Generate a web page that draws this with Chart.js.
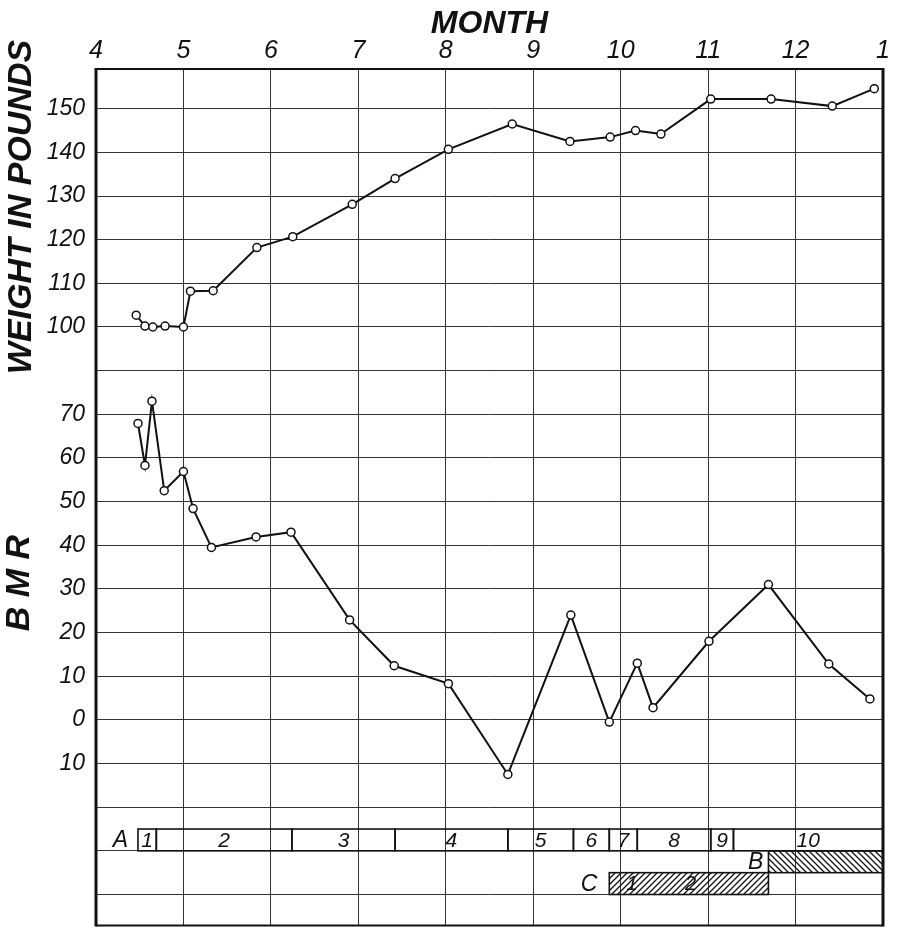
<!DOCTYPE html>
<html><head><meta charset="utf-8">
<script src="https://cdn.jsdelivr.net/npm/chart.js@4.4.1/dist/chart.umd.min.js"></script>
<style>html,body{margin:0;padding:0;background:#fff}#wrap{width:899px;height:931px;position:relative}</style>
</head><body><div id="wrap"><canvas id="c" width="899" height="931"></canvas></div>
<script>
// ---- data ----
const monthTicks = [4, 5, 6, 7, 8, 9, 10, 11, 12, 13];
const monthTickLabels = ['4', '5', '6', '7', '8', '9', '10', '11', '12', '1'];
const weightTicks = [100, 110, 120, 130, 140, 150];
const bmrTicks = [70, 60, 50, 40, 30, 20, 10, 0, -10];
const bmrTickLabels = ['70', '60', '50', '40', '30', '20', '10', '0', '10'];

const weightMonths = [4.46, 4.56, 4.65, 4.79, 5.0, 5.08, 5.34, 5.84, 6.25, 6.93, 7.42, 8.03, 8.76, 9.42, 9.88, 10.17, 10.46, 11.03, 11.72, 12.42, 12.90];
const weightValues = [102.7, 100.2, 100, 100.2, 100, 108.2, 108.3, 118.2, 120.7, 128.1, 134, 140.7, 146.5, 142.5, 143.5, 145, 144.2, 152.2, 152.2, 150.6, 154.6];

const bmrMonths = [4.48, 4.56, 4.64, 4.78, 5.0, 5.11, 5.32, 5.83, 6.23, 6.9, 7.41, 8.03, 8.71, 9.43, 9.87, 10.19, 10.37, 11.01, 11.69, 12.38, 12.85];
const bmrValues = [67.9, 58.3, 73.0, 52.5, 56.9, 48.4, 39.5, 41.9, 43.0, 22.9, 12.4, 8.3, -12.5, 24, -0.5, 13, 2.8, 18, 31, 12.8, 4.8];

const periodALabels = ['1', '2', '3', '4', '5', '6', '7', '8', '9', '10'];
const periodABounds = [4.48, 4.69, 6.24, 7.42, 8.71, 9.46, 9.87, 10.19, 11.03, 11.29, 13.0];
const periodB = [11.69, 13.0];
const periodC = [9.87, 11.69];
const periodCLabels = ['1', '2'];
const periodCLabelMonths = [10.13, 10.80];

// ---- layout constants ----
const BMR_OFFSET = 10;            // BMR axis = weight axis shifted by 10 units
const gridValues = [];
for (let v = -30; v <= 150; v += 10) gridValues.push(v);
const ROW_A = [-15, -20], ROW_B = [-20, -25], ROW_C = [-25, -30];
const FONT = "'Liberation Sans', 'DejaVu Sans', sans-serif";

const canvas = document.getElementById('c');
const ctx0 = canvas.getContext('2d');
function hatch(dir) {
  const s = 6;
  const c = document.createElement('canvas'); c.width = c.height = s;
  const g = c.getContext('2d');
  g.strokeStyle = '#111'; g.lineWidth = 1.3; g.beginPath();
  if (dir > 0) { g.moveTo(-1, s + 1); g.lineTo(s + 1, -1); g.moveTo(-1, 1); g.lineTo(1, -1); g.moveTo(s - 1, s + 1); g.lineTo(s + 1, s - 1); }
  else { g.moveTo(-1, -1); g.lineTo(s + 1, s + 1); g.moveTo(-1, s - 1); g.lineTo(1, s + 1); g.moveTo(s - 1, -1); g.lineTo(s + 1, 1); }
  g.stroke();
  return ctx0.createPattern(c, 'repeat');
}

const extras = {
  id: 'extras',
  beforeDatasetsDraw(chart) {
    const { ctx, chartArea: a, scales: { x, y } } = chart;
    ctx.save();
    ctx.fillStyle = '#111'; ctx.strokeStyle = '#111';
    ctx.font = 'italic 21px ' + FONT;
    ctx.textAlign = 'center'; ctx.textBaseline = 'middle';
    // Row A
    const ya0 = y.getPixelForValue(ROW_A[0]), ya1 = y.getPixelForValue(ROW_A[1]);
    ctx.lineWidth = 1.6;
    for (let i = 0; i < periodALabels.length; i++) {
      const x0 = x.getPixelForValue(periodABounds[i]), x1 = x.getPixelForValue(periodABounds[i + 1]);
      ctx.strokeRect(x0, ya0, x1 - x0, ya1 - ya0);
      ctx.fillText(periodALabels[i], (x0 + x1) / 2, (ya0 + ya1) / 2 + 1);
    }
    ctx.font = 'italic 23px ' + FONT;
    ctx.textAlign = 'right';
    ctx.fillText('A', x.getPixelForValue(periodABounds[0]) - 10, (ya0 + ya1) / 2 + 1);
    // Row B
    const yb0 = y.getPixelForValue(ROW_B[0]), yb1 = y.getPixelForValue(ROW_B[1]);
    let bx0 = x.getPixelForValue(periodB[0]), bx1 = x.getPixelForValue(periodB[1]);
    ctx.fillStyle = hatch(-1); ctx.fillRect(bx0, yb0, bx1 - bx0, yb1 - yb0);
    ctx.strokeRect(bx0, yb0, bx1 - bx0, yb1 - yb0);
    ctx.fillStyle = '#111';
    ctx.fillText('B', bx0 - 5, (yb0 + yb1) / 2 + 1);
    // Row C
    const yc0 = y.getPixelForValue(ROW_C[0]), yc1 = y.getPixelForValue(ROW_C[1]);
    let cx0 = x.getPixelForValue(periodC[0]), cx1 = x.getPixelForValue(periodC[1]);
    ctx.fillStyle = hatch(1); ctx.fillRect(cx0, yc0, cx1 - cx0, yc1 - yc0);
    ctx.strokeRect(cx0, yc0, cx1 - cx0, yc1 - yc0);
    ctx.fillStyle = '#111';
    ctx.fillText('C', cx0 - 12, (yc0 + yc1) / 2 + 1);
    ctx.textAlign = 'center';
    ctx.font = 'italic 20px ' + FONT;
    for (let i = 0; i < periodCLabels.length; i++) {
      ctx.fillText(periodCLabels[i], x.getPixelForValue(periodCLabelMonths[i]), (yc0 + yc1) / 2 + 1);
    }
    // Frame
    ctx.lineWidth = 3;
    ctx.beginPath(); ctx.moveTo(a.left, a.top - 1); ctx.lineTo(a.left, a.bottom + 1); ctx.stroke();
    ctx.beginPath(); ctx.moveTo(a.right, a.top - 1); ctx.lineTo(a.right, a.bottom + 1); ctx.stroke();
    ctx.lineWidth = 2.2;
    ctx.beginPath(); ctx.moveTo(a.left, a.top); ctx.lineTo(a.right, a.top); ctx.stroke();
    ctx.beginPath(); ctx.moveTo(a.left, a.bottom); ctx.lineTo(a.right, a.bottom); ctx.stroke();
    // Rotated axis titles
    ctx.font = 'italic bold 34px ' + FONT;
    ctx.textAlign = 'center'; ctx.textBaseline = 'middle';
    ctx.save(); ctx.translate(22, 207); ctx.rotate(-Math.PI / 2); ctx.fillText('WEIGHT IN POUNDS', 0, 0); ctx.restore();
    ctx.save(); ctx.translate(20, 583); ctx.rotate(-Math.PI / 2); ctx.fillText('B M R', 0, 0); ctx.restore();
    ctx.restore();
  }
};

const pointStyle = { pointRadius: 4, pointHoverRadius: 4, pointBackgroundColor: '#fff', pointBorderColor: '#111', pointBorderWidth: 1.5 };

new Chart(canvas, {
  type: 'line',
  data: {
    datasets: [
      Object.assign({ label: 'Weight', data: weightMonths.map((m, i) => ({ x: m, y: weightValues[i] })), yAxisID: 'y', borderColor: '#111', borderWidth: 2, tension: 0 }, pointStyle),
      Object.assign({ label: 'BMR', data: bmrMonths.map((m, i) => ({ x: m, y: bmrValues[i] })), yAxisID: 'yB', borderColor: '#111', borderWidth: 2, tension: 0 }, pointStyle)
    ]
  },
  options: {
    responsive: false,
    animation: false,
    devicePixelRatio: 1,
    layout: { padding: { top: 0, right: 16, bottom: 1, left: 0 } },
    plugins: { legend: { display: false }, tooltip: { enabled: false } },
    scales: {
      x: {
        type: 'linear', position: 'top', min: 4, max: 13,
        afterBuildTicks: s => { s.ticks = monthTicks.map(v => ({ value: v })); },
        afterFit: s => { s.height = 69; s.paddingLeft = 0; s.paddingRight = 0; },
        ticks: { autoSkip: false, maxRotation: 0, padding: 3, color: '#111', font: { family: FONT, style: 'italic', size: 25 },
          callback: v => { const i = monthTicks.indexOf(v); return i >= 0 ? monthTickLabels[i] : ''; } },
        grid: { color: '#333', lineWidth: 1, drawTicks: false },
        border: { display: false },
        title: { display: true, text: 'MONTH', color: '#111', font: { family: FONT, style: 'italic', weight: 'bold', size: 32 }, padding: { top: 5, bottom: 0 } }
      },
      y: {
        type: 'linear', position: 'left', min: -37.1, max: 159.1,
        afterBuildTicks: s => { s.ticks = gridValues.map(v => ({ value: v })); },
        afterFit: s => { s.width = 96; s.paddingTop = 0; s.paddingBottom = 0; },
        ticks: { padding: 11, color: '#111', font: { family: FONT, style: 'italic', size: 23 },
          callback: v => {
            if (weightTicks.includes(v)) return String(v);
            const i = bmrTicks.indexOf(v - BMR_OFFSET);
            return i >= 0 ? bmrTickLabels[i] : '';
          } },
        grid: { color: '#333', lineWidth: 1, drawTicks: false },
        border: { display: false }
      },
      yB: {
        type: 'linear', display: false, min: -37.1 - BMR_OFFSET, max: 159.1 - BMR_OFFSET
      }
    }
  },
  plugins: [extras]
});
</script>
</body></html>
